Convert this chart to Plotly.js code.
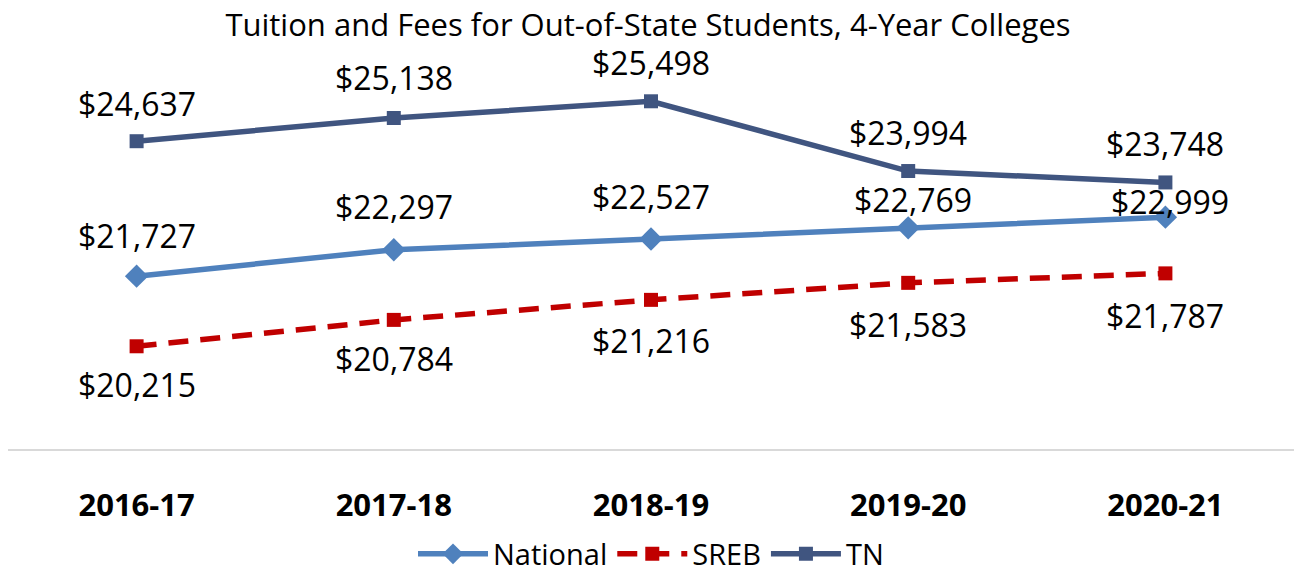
<!DOCTYPE html>
<html>
<head>
<meta charset="utf-8">
<script src="https://cdn.plot.ly/plotly-3.0.1.min.js"></script>
<style>html,body{margin:0;padding:0;background:#fff;}#chart{width:1296px;height:576px;}</style>
</head>
<body>
<div id="chart"></div>
<script>
const years = ["2016-17", "2017-18", "2018-19", "2019-20", "2020-21"];
const national = [21727, 22297, 22527, 22769, 22999];
const sreb = [20215, 20784, 21216, 21583, 21787];
const tn = [24637, 25138, 25498, 23994, 23748];

// label offsets in px (layout only)
const tnShift = [38, 40, 39, 39, 39];
const natShift = [41, 43, 43, 28, 16];
const natXShift = [0, 0, 0, 5, 5];
const srebShift = [-38, -39, -41, -42, -42];

const fmt = v => "$" + v.toLocaleString("en-US");
const FONT = "Open Sans";

const traces = [
  {x: years, y: national, name: "National", type: "scatter", mode: "lines+markers",
   line: {color: "#4F81BD", width: 5.5}, marker: {symbol: "diamond", size: 18, color: "#4F81BD"}},
  {x: years, y: sreb, name: "SREB", type: "scatter", mode: "lines+markers",
   line: {color: "#C00000", width: 5.5, dash: "20px,12px"}, marker: {symbol: "square", size: 14, color: "#C00000"}},
  {x: years, y: tn, name: "TN", type: "scatter", mode: "lines+markers",
   line: {color: "#405580", width: 5.5}, marker: {symbol: "square", size: 14, color: "#405580"}}
];

const annotations = [];
function addLabels(vals, shifts, xshifts) {
  vals.forEach((v, i) => annotations.push({
    x: years[i], y: v, xref: "x", yref: "y", text: fmt(v), showarrow: false,
    yshift: shifts[i], xshift: xshifts ? xshifts[i] : 0,
    font: {family: FONT, size: 32, color: "#000"}
  }));
}
addLabels(tn, tnShift);
addLabels(national, natShift, natXShift);
addLabels(sreb, srebShift);

const layout = {
  width: 1296, height: 576,
  margin: {l: 8, r: 2, t: 78, b: 127},
  paper_bgcolor: "#fff", plot_bgcolor: "#fff",
  title: {text: "Tuition and Fees for Out-of-State Students, 4-Year Colleges",
          font: {family: FONT, size: 31, color: "#000"}, x: 0.5, xanchor: "center",
          y: 1 - 25/576, yanchor: "middle", yref: "container"},
  xaxis: {type: "category", showgrid: false, zeroline: false, showline: true, automargin: false,
          linecolor: "#D9D9D9", linewidth: 2, ticks: "", ticklabelstandoff: 28,
          tickfont: {family: FONT, size: 31, color: "#000", weight: "bold"},
          range: [-0.5, 4.5]},
  yaxis: {range: [18000, 26000], visible: false, showgrid: false, zeroline: false, automargin: false},
  showlegend: true,
  legend: {orientation: "h", x: 0.5, xanchor: "center", y: 22/576, yref: "container", yanchor: "middle",
           font: {family: FONT, size: 29, color: "#000"}, itemwidth: 70, traceorder: "normal"},
  annotations: annotations
};

Plotly.newPlot("chart", traces, layout, {displayModeBar: false, staticPlot: true});
</script>
</body>
</html>
